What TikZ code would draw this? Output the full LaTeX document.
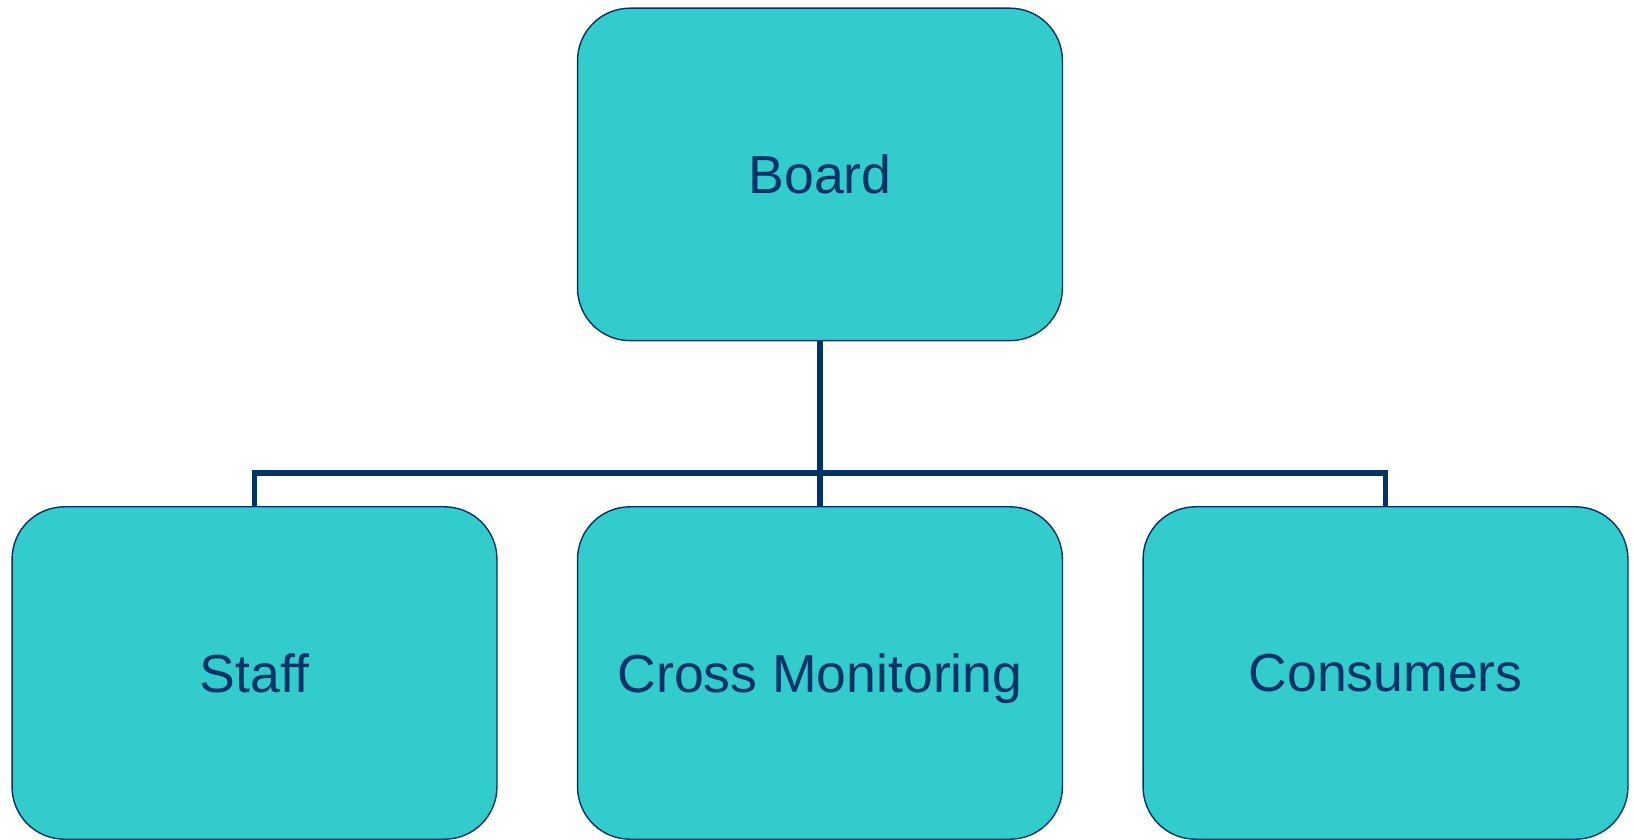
\documentclass[tikz,border=0pt]{standalone}
\usepackage{fontspec}
\setmainfont{Liberation Sans}
\definecolor{boxfill}{HTML}{33CCCC}
\definecolor{navy}{HTML}{003366}

\begin{document}
\begin{tikzpicture}[x=0.02cm,y=-0.02cm]
            \tikzstyle{every node}+=[inner sep=0pt]
            \tikzstyle{unit}=[draw=navy, line width=0.8pt, fill=boxfill, rounded corners=1.05cm, minimum width=9.7cm, minimum height=6.65cm, text depth=0pt, text=navy, font=\fontsize{30.5}{36}\selectfont]
            \tikzstyle{conn}=[draw=navy, line width=3.3pt]
            \useasboundingbox (0,0) rectangle (1634,839);
            \node [unit] (board) at (820,174.4) {Board};
            \node [unit] (staff) at (254.5,673) {Staff};
            \node [unit] (cross) at (820,673) {Cross Monitoring};
            \node [unit] (consumers) at (1385.5,673) {Consumers};
            \coordinate (bus) at (820,472.7);
            \draw [conn] (board.south) -- (cross.north);
            \draw [conn] (staff.north) |- (bus) -| (consumers.north);
        \end{tikzpicture}
\end{document}
